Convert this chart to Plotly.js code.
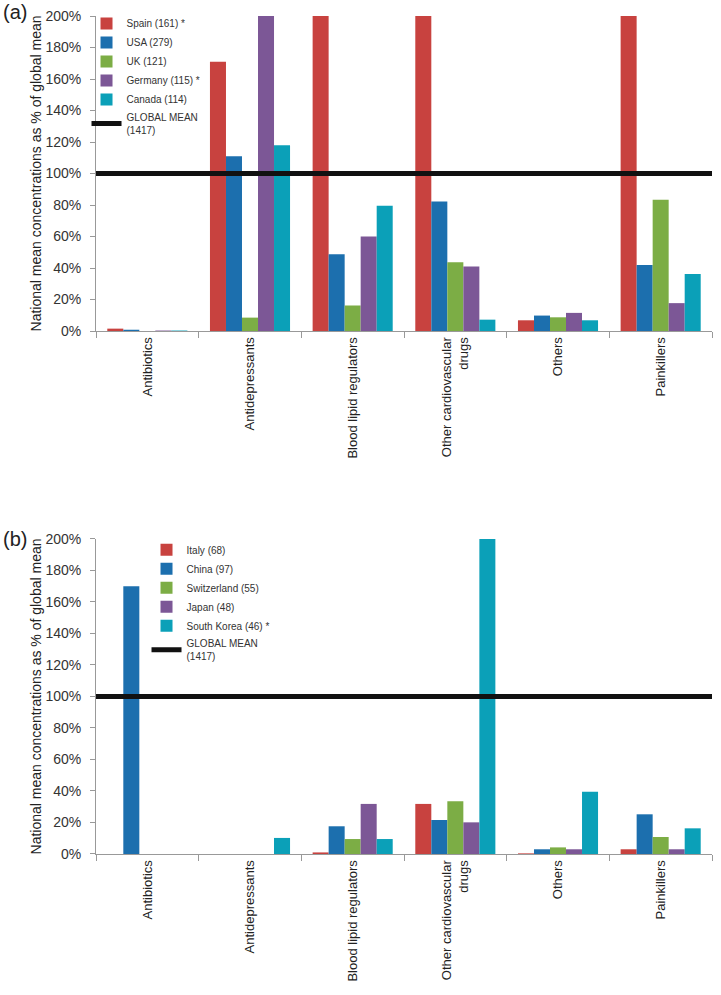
<!DOCTYPE html>
<html>
<head>
<meta charset="utf-8">
<script src="https://cdn.plot.ly/plotly-3.0.1.min.js"></script>
<style>html,body{margin:0;padding:0;background:#fff;}#chart{width:721px;height:995px;}</style>
</head>
<body>
<div id="chart"></div>
<script>
const categories = ["Antibiotics", "Antidepressants", "Blood lipid regulators", "Other cardiovascular<br>drugs", "Others", "Painkillers"];
const yTickVals = [0, 20, 40, 60, 80, 100, 120, 140, 160, 180, 200];
const yTickLabels = ["0%", "20%", "40%", "60%", "80%", "100%", "120%", "140%", "160%", "180%", "200%"];
const globalMean = 100;

// Panel (a)
const namesA = ["Spain (161) *", "USA (279)", "UK (121)", "Germany (115) *", "Canada (114)"];
const spain   = [1.5, 171, 200, 200, 6.8, 200];
const usa     = [0.8, 111, 48.7, 82.3, 9.8, 41.9];
const uk      = [0, 8.5, 16.2, 43.6, 8.7, 83.4];
const germany = [0.3, 200, 60, 40.9, 11.5, 17.7];
const canada  = [0.3, 118, 79.6, 7.2, 6.8, 36.2];

// Panel (b)
const namesB = ["Italy (68)", "China (97)", "Switzerland (55)", "Japan (48)", "South Korea (46) *"];
const italy       = [0, 0, 1, 31.8, 0.4, 3];
const china       = [170, 0, 17.6, 21.6, 3, 25.2];
const switzerland = [0, 0, 9.5, 33.5, 4.2, 10.8];
const japan       = [0, 0, 31.8, 20.1, 3, 3];
const southKorea  = [0, 10.2, 9.5, 200, 39.6, 16.3];

const colors = ["#c8423f", "#1c6fae", "#7cad45", "#7c5796", "#0ba0b8"];
const FONT = "Liberation Sans, Arial, sans-serif";

const seriesA = [spain, usa, uk, germany, canada];
const seriesB = [italy, china, switzerland, japan, southKorea];

const traces = [];
seriesA.forEach((s, i) => traces.push({
  type: "bar", x: categories, y: s, name: namesA[i],
  marker: {color: colors[i]}, xaxis: "x", yaxis: "y", legend: "legend"
}));
seriesB.forEach((s, i) => traces.push({
  type: "bar", x: categories, y: s, name: namesB[i],
  marker: {color: colors[i]}, xaxis: "x2", yaxis: "y2", legend: "legend2"
}));

const axisY = {
  range: [0, 200], tickmode: "array", tickvals: yTickVals, ticktext: yTickLabels,
  showgrid: false, zeroline: false, showline: true, linecolor: "#999", linewidth: 1,
  ticks: "outside", ticklen: 5, tickcolor: "#999", ticklabelstandoff: 6,
  tickfont: {family: FONT, size: 14, color: "#333"},
  title: {text: "National mean concentrations as % of global mean", font: {family: FONT, size: 14, color: "#222"}, standoff: 0},
  fixedrange: true
};
const axisX = {
  type: "category", tickangle: -90, showgrid: false, zeroline: false,
  showline: true, linecolor: "#999", linewidth: 1,
  ticks: "outside", ticklen: 6, tickcolor: "#999", tickson: "boundaries",
  tickfont: {family: FONT, size: 13, color: "#222"}
};

const layout = {
  width: 721, height: 995,
  margin: {l: 96, r: 9, t: 16, b: 141},
  paper_bgcolor: "#fff", plot_bgcolor: "#fff",
  barmode: "group", bargap: 0.22, bargroupgap: 0,
  font: {family: FONT, color: "#333"},
  showlegend: true,
  xaxis: Object.assign({}, axisX, {anchor: "y"}),
  yaxis: Object.assign({}, axisY, {domain: [0.6241, 1], anchor: "x"}),
  xaxis2: Object.assign({}, axisX, {anchor: "y2"}),
  yaxis2: Object.assign({}, axisY, {domain: [0, 0.3759], anchor: "x2"}),
  legend: {x: -0.0154, y: 1.0084, xanchor: "left", yanchor: "top", bgcolor: "rgba(0,0,0,0)",
    font: {family: FONT, size: 10, color: "#333"}, tracegroupgap: 0, itemwidth: 30},
  legend2: {x: 0.082, y: 0.3803, xanchor: "left", yanchor: "top", bgcolor: "rgba(0,0,0,0)",
    font: {family: FONT, size: 10, color: "#333"}, tracegroupgap: 0, itemwidth: 30},
  shapes: [
    {type: "line", xref: "x domain", yref: "y", x0: 0, x1: 1, y0: globalMean, y1: globalMean,
     line: {color: "#111", width: 5}, showlegend: true, name: "GLOBAL MEAN<br>(1417)", legend: "legend"},
    {type: "line", xref: "x2 domain", yref: "y2", x0: 0, x1: 1, y0: globalMean, y1: globalMean,
     line: {color: "#111", width: 5}, showlegend: true, name: "GLOBAL MEAN<br>(1417)", legend: "legend2"}
  ],
  annotations: [
    {text: "(a)", xref: "paper", yref: "paper", x: -0.155, y: 1.005, xanchor: "left", yanchor: "middle",
     showarrow: false, font: {family: FONT, size: 20, color: "#222"}},
    {text: "(b)", xref: "paper", yref: "paper", x: -0.155, y: 0.376, xanchor: "left", yanchor: "middle",
     showarrow: false, font: {family: FONT, size: 20, color: "#222"}}
  ]
};

Plotly.newPlot("chart", traces, layout, {displayModeBar: false, staticPlot: true});
</script>
</body>
</html>
